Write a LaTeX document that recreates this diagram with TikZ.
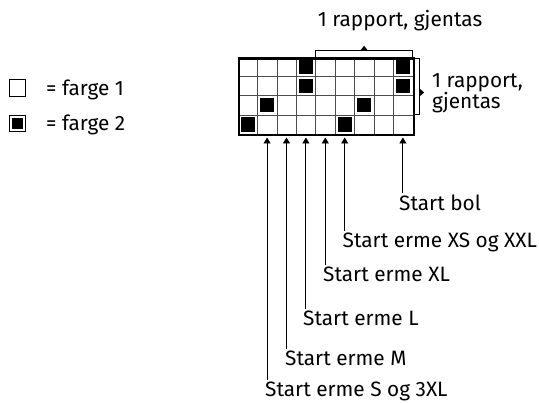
\documentclass[tikz,border=0pt]{standalone}
\usepackage{fontspec}
\setmainfont{Fira Sans}
\usetikzlibrary{arrows.meta}
\begin{document}
\begin{tikzpicture}[x=1pt,y=-1pt,
  txt/.style={font=\fontsize{20.8}{21.5}\selectfont, inner sep=0pt},
  lbl/.style={txt, anchor=west},
  cellline/.style={draw=black!70, line width=0.6pt},
  frame/.style={draw=black, line width=2.4pt},
  blk/.style={fill=black},
  brk/.style={draw=black, line width=0.8pt},
  arr/.style={draw=black, line width=0.9pt, -{Triangle[width=7pt,length=6pt]}}]
\useasboundingbox (0,0) rectangle (539,403);
% grid
\def\gx{238}\def\gy{57.3}\def\cw{19.4}\def\ch{19.2}
\foreach \i in {1,...,8} \draw[cellline] ({\gx+\i*\cw},\gy) -- ({\gx+\i*\cw},{\gy+4*\ch});
\foreach \j in {1,2,3} \draw[cellline] (\gx,{\gy+\j*\ch}) -- ({\gx+9*\cw},{\gy+\j*\ch});
\foreach \c/\r in {3/0,8/0,3/1,8/1,1/2,6/2,0/3,5/3}
  \fill[blk] ({\gx+\c*\cw+2.5},{\gy+\r*\ch+2.5}) rectangle ({\gx+(\c+1)*\cw-2.5},{\gy+(\r+1)*\ch-2.5});
\node[frame, minimum width=174.6pt, minimum height=76.8pt, anchor=north west, inner sep=0pt] (grid) at (\gx,\gy) {};
% top bracket
\coordinate (tbl) at ({\gx+4*\cw},\gy);
\coordinate (tbr) at ({\gx+9*\cw},\gy);
\draw[brk] (tbl) -- ++(0,-6.5) -| (tbr);
\coordinate (tbm) at ({\gx+6.5*\cw},{\gy-6.5});
\fill (tbm) ++(-4,0) -- ++(4,-5) -- ++(4,5) -- cycle;
\node[txt] (toplbl) at (400,20.7) {1 rapport, gjentas};
% right bracket
\coordinate (rbt) at ({\gx+9*\cw},{\gy+0.7});
\coordinate (rbb) at ({\gx+9*\cw},{\gy+3*\ch});
\draw[brk] (rbt) -- ++(7,0) |- (rbb);
\fill ({\gx+9*\cw+7},88.5) -- ++(4.5,4) -- ++(-4.5,4) -- cycle;
\node[txt, align=left, anchor=west] (rightlbl) at (432,93.5) {1 rapport,\\gjentas};
% legend
\node[draw=black, line width=0.8pt, minimum size=16.5pt, inner sep=0pt] (leg1) at (17.5,88) {};
\node[lbl] (leg1t) at (46,90) {= farge 1};
\node[draw=black, line width=0.8pt, minimum size=16.5pt, inner sep=0pt] (leg2) at (17.5,123.5) {};
\node[fill=black, minimum size=11pt, inner sep=0pt] (leg2f) at (leg2) {};
\node[lbl] (leg2t) at (46,125) {= farge 2};
% bottom labels
\foreach \name/\c/\x/\y/\t in {bol/8/399/203/Start bol, xs/5/342.5/242/Start erme XS og XXL, xl/4/323/274/Start erme XL, l/3/303/318/Start erme L, m/2/285/358/Start erme M, s/1/265/391.5/Start erme S og 3XL}{
  \node[lbl] (\name) at (\x,\y) {\t};
  \coordinate (tip\name) at ({\gx+(\c+0.5)*\cw},137.5);
  \draw[arr] (\name.north -| tip\name) ++(0,-1.5) -- (tip\name);
}
\end{tikzpicture}
\end{document}
